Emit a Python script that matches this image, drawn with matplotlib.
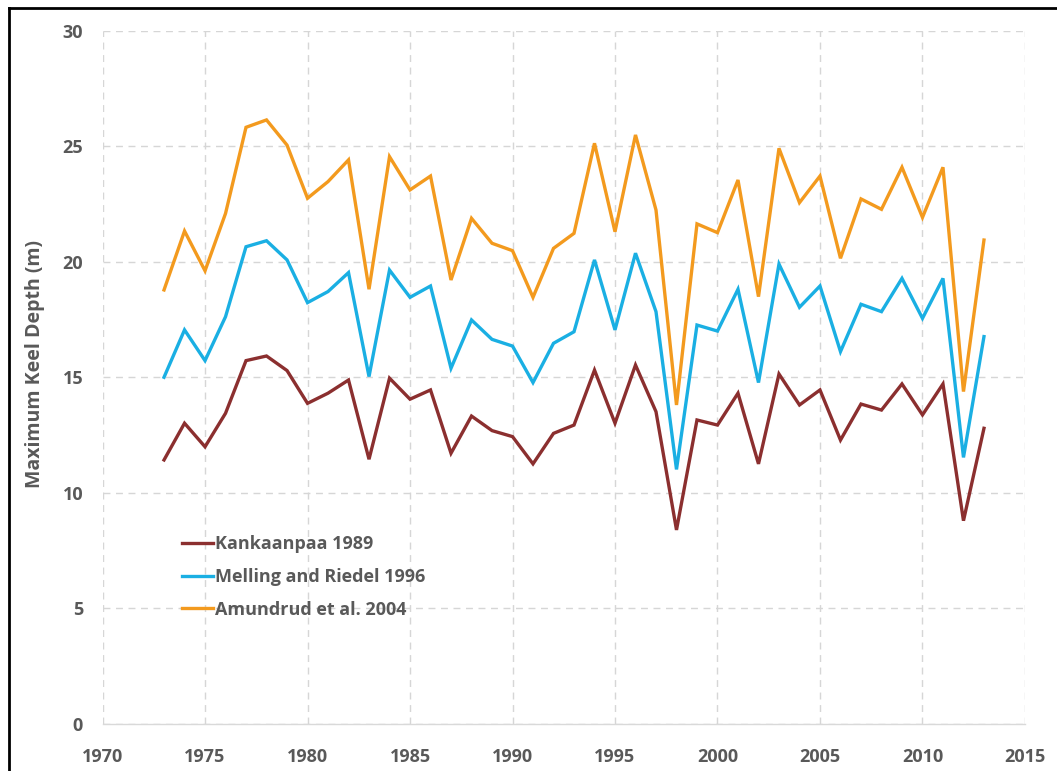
import matplotlib
matplotlib.use("Agg")
import matplotlib.pyplot as plt
from matplotlib.lines import Line2D

years = list(range(1973, 2014))

kankaanpaa = [11.43, 13.02, 12.00, 13.45, 15.73, 15.93, 15.30, 13.88, 14.32, 14.89,
              11.46, 14.97, 14.06, 14.46, 11.72, 13.33, 12.70, 12.44, 11.26, 12.58,
              12.94, 15.32, 13.02, 15.54, 13.52, 8.40, 13.16, 12.94, 14.32, 11.26,
              15.15, 13.81, 14.46, 12.29, 13.85, 13.59, 14.72, 13.38, 14.72, 8.80,
              12.80]
melling = [15.01, 17.06, 15.73, 17.63, 20.66, 20.92, 20.09, 18.24, 18.72, 19.54,
           15.04, 19.65, 18.47, 18.96, 15.40, 17.49, 16.65, 16.36, 14.78, 16.48,
           16.98, 20.09, 17.06, 20.38, 17.85, 11.02, 17.27, 17.01, 18.82, 14.78,
           19.91, 18.04, 18.96, 16.12, 18.17, 17.85, 19.29, 17.56, 19.29, 11.54,
           16.77]
amundrud = [18.79, 21.34, 19.62, 22.10, 25.83, 26.15, 25.06, 22.76, 23.48, 24.42,
            18.82, 24.56, 23.12, 23.72, 19.22, 21.89, 20.81, 20.49, 18.47, 20.59,
            21.24, 25.14, 21.31, 25.50, 22.25, 13.81, 21.65, 21.27, 23.55, 18.50,
            24.92, 22.57, 23.72, 20.16, 22.73, 22.28, 24.10, 21.93, 24.10, 14.39,
            20.95]

series_names = ["Kankaanpaa 1989", "Melling and Riedel 1996", "Amundrud et al. 2004"]
series_colors = ["#8B2F2F", "#1AAFE3", "#F39A1E"]

x_ticks = list(range(1970, 2016, 5))
y_ticks = list(range(0, 31, 5))

text_gray = "#595959"
plt.rcParams["font.family"] = ["Open Sans", "DejaVu Sans"]

fig = plt.figure(figsize=(10.57, 7.71), dpi=100)
ax = fig.add_axes([0.097, 0.061, 0.8727, 0.8988])

for vals, name, col in zip([kankaanpaa, melling, amundrud], series_names, series_colors):
    ax.plot(years, vals, color=col, lw=2.4, label=name, solid_joinstyle="miter")

ax.set_xlim(1970, 2015)
ax.set_ylim(0, 30)
ax.set_xticks(x_ticks)
ax.set_yticks(y_ticks)
ax.tick_params(length=0, labelsize=13, labelcolor=text_gray)
ax.tick_params(axis="x", pad=17)
ax.tick_params(axis="y", pad=14)
for lab in ax.get_xticklabels() + ax.get_yticklabels():
    lab.set_fontweight("bold")

# dashed grid, solid baseline at zero
ax.grid(True, color="#D6D6D6", lw=1.0, ls=(0, (5, 4)))
ax.set_axisbelow(True)
for s in ["top", "right", "left"]:
    ax.spines[s].set_visible(False)
ax.spines["bottom"].set_color("#D9D9D9")
ax.spines["bottom"].set_linewidth(1.0)

ax.set_ylabel("Maximum Keel Depth (m)", fontsize=14, fontweight="bold",
              color=text_gray)
ax.yaxis.set_label_coords(-0.062, 0.52)

leg = ax.legend(loc="upper left", bbox_to_anchor=(0.078, 0.283), frameon=False,
                handlelength=1.75, handletextpad=0.1, labelspacing=0.82,
                borderaxespad=0, prop={"size": 13, "weight": "bold"})
for t in leg.get_texts():
    t.set_color(text_gray)

# outer border on the left and top edges
fig.add_artist(Line2D([9 / 1057, 9 / 1057], [0, 1 - 8 / 771], color="black", lw=2))
fig.add_artist(Line2D([9 / 1057, 1], [1 - 8 / 771, 1 - 8 / 771], color="black", lw=2))

fig.savefig("out.png", dpi=100)
